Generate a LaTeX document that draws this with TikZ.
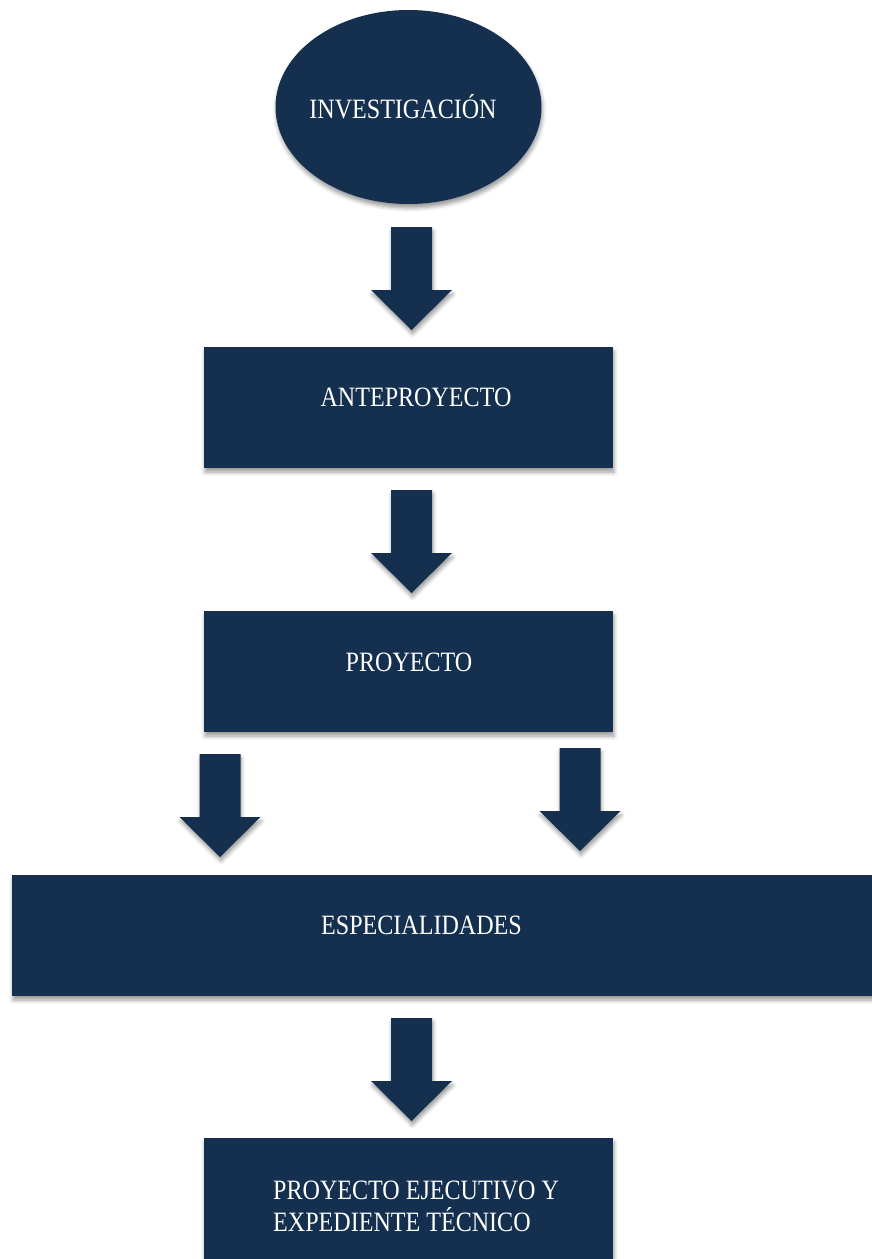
\documentclass[tikz,border=0pt]{standalone}
\usepackage{fontspec}
\setmainfont{Liberation Serif}[FakeStretch=0.86]
\usetikzlibrary{shapes.geometric,shadows.blur}
\definecolor{navy}{RGB}{21,48,79}
\tikzset{
  shd/.style={blur shadow={shadow xshift=1pt,shadow yshift=-4pt,shadow blur radius=4pt,shadow opacity=40}},
  stagebox/.style={rectangle,fill=navy,draw=none,shd,inner sep=0pt},
  stageoval/.style={ellipse,fill=navy,draw=none,shd,inner sep=0pt},
  lbl/.style={text=white,font=\fontsize{28}{32}\selectfont,inner sep=0pt,anchor=base},
  pics/downarrow/.style={code={
    \path[fill=navy,shd] (-20.5,0) -- (20.5,0) -- (20.5,63) -- (40.5,63) -- (0,103)
      -- (-40.5,63) -- (-20.5,63) -- cycle;}}
}
\begin{document}
\begin{tikzpicture}[x=1pt,y=-1pt]
\useasboundingbox (0,0) rectangle (871,1259);
% nodes
\node[stageoval,minimum width=266,minimum height=194] (inv) at (408.5,107) {};
\node[lbl] (invt) at (403,118) {INVESTIGACIÓN};

\pic at (411.5,227) {downarrow};

\node[stagebox,minimum width=409,minimum height=121] (ante) at (408.5,407.5) {};
\node[lbl] (antet) at (416,406) {ANTEPROYECTO};

\pic at (411.5,490) {downarrow};

\node[stagebox,minimum width=409,minimum height=121] (proy) at (408.5,671.5) {};
\node[lbl] (proyt) at (409,671) {PROYECTO};

\pic at (220,754) {downarrow};
\pic at (580,748) {downarrow};

\node[stagebox,minimum width=880,minimum height=121] (esp) at (452,935.5) {};
\node[lbl] (espt) at (421.5,934) {ESPECIALIDADES};

\pic at (411.5,1018) {downarrow};

\node[stagebox,minimum width=409,minimum height=150] (ejec) at (408.5,1213) {};
\node[text=white,font=\fontsize{28}{32}\selectfont,inner sep=0pt,anchor=base west,align=left] (eject) at (273,1231) {PROYECTO EJECUTIVO Y\\EXPEDIENTE TÉCNICO};
\end{tikzpicture}
\end{document}
